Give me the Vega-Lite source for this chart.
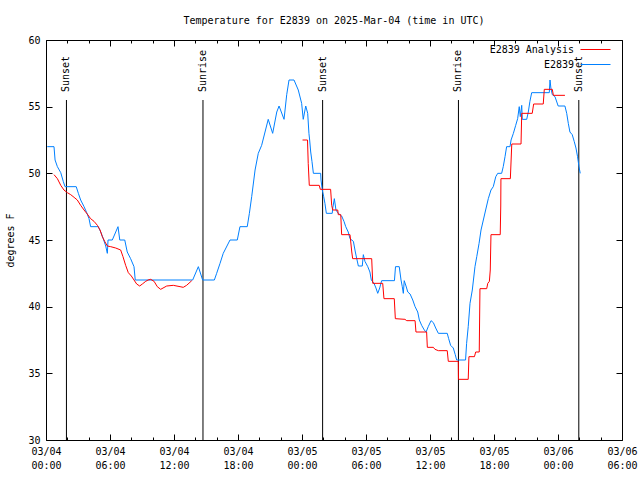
{
  "$schema": "https://vega.github.io/schema/vega-lite/v6.json",
  "width": 576,
  "height": 400,
  "autosize": {"type": "none"},
  "padding": {"left": 46, "top": 40, "right": 18, "bottom": 40},
  "background": "white",
  "title": {"text": "Temperature for E2839 on 2025-Mar-04 (time in UTC)", "font": "DejaVu Sans Mono", "fontSize": 10, "fontWeight": "normal", "color": "black", "offset": -1, "baseline": "bottom", "anchor": "middle"},
  "config": {
    "view": {"stroke": "black", "strokeWidth": 1},
    "axis": {"domainColor": "black", "domainWidth": 1, "tickColor": "black", "tickWidth": 1, "labelColor": "black", "labelFont": "DejaVu Sans Mono", "labelFontSize": 10, "titleFont": "DejaVu Sans Mono", "titleFontSize": 10, "titleFontWeight": "normal", "titleColor": "black", "grid": false},
    "legend": {"orient": "none", "legendX": 544, "legendY": 4, "title": null, "symbolType": "M-3,0H3", "symbolSize": 100, "symbolStrokeWidth": 1, "labelAlign": "right", "labelBaseline": "middle", "labelOffset": -27, "labelFont": "DejaVu Sans Mono", "labelFontSize": 10, "labelColor": "black", "rowPadding": 4, "padding": 0}
  },
  "datasets": {
    "obs": [
      {"series": "E2839", "run": 1, "t": "2025-03-04T00:07Z", "temp": 52.0},
      {"series": "E2839", "run": 1, "t": "2025-03-04T00:45Z", "temp": 52.0},
      {"series": "E2839", "run": 1, "t": "2025-03-04T00:51Z", "temp": 51.0},
      {"series": "E2839", "run": 1, "t": "2025-03-04T01:04Z", "temp": 50.5},
      {"series": "E2839", "run": 1, "t": "2025-03-04T01:23Z", "temp": 50.05},
      {"series": "E2839", "run": 1, "t": "2025-03-04T01:37Z", "temp": 49.4},
      {"series": "E2839", "run": 1, "t": "2025-03-04T01:47Z", "temp": 49.0},
      {"series": "E2839", "run": 1, "t": "2025-03-04T02:50Z", "temp": 49.0},
      {"series": "E2839", "run": 1, "t": "2025-03-04T03:02Z", "temp": 48.5},
      {"series": "E2839", "run": 1, "t": "2025-03-04T03:15Z", "temp": 48.0},
      {"series": "E2839", "run": 1, "t": "2025-03-04T03:34Z", "temp": 47.5},
      {"series": "E2839", "run": 1, "t": "2025-03-04T03:49Z", "temp": 47.05},
      {"series": "E2839", "run": 1, "t": "2025-03-04T04:02Z", "temp": 46.6},
      {"series": "E2839", "run": 1, "t": "2025-03-04T04:11Z", "temp": 46.0},
      {"series": "E2839", "run": 1, "t": "2025-03-04T04:54Z", "temp": 46.0},
      {"series": "E2839", "run": 1, "t": "2025-03-04T05:08Z", "temp": 45.6},
      {"series": "E2839", "run": 1, "t": "2025-03-04T05:22Z", "temp": 45.1},
      {"series": "E2839", "run": 1, "t": "2025-03-04T05:36Z", "temp": 44.55},
      {"series": "E2839", "run": 1, "t": "2025-03-04T05:45Z", "temp": 44.0},
      {"series": "E2839", "run": 1, "t": "2025-03-04T05:49Z", "temp": 45.0},
      {"series": "E2839", "run": 1, "t": "2025-03-04T06:13Z", "temp": 45.0},
      {"series": "E2839", "run": 1, "t": "2025-03-04T06:45Z", "temp": 46.0},
      {"series": "E2839", "run": 1, "t": "2025-03-04T06:55Z", "temp": 45.0},
      {"series": "E2839", "run": 1, "t": "2025-03-04T07:23Z", "temp": 45.0},
      {"series": "E2839", "run": 1, "t": "2025-03-04T07:37Z", "temp": 44.1},
      {"series": "E2839", "run": 1, "t": "2025-03-04T07:56Z", "temp": 43.6},
      {"series": "E2839", "run": 1, "t": "2025-03-04T08:15Z", "temp": 43.0},
      {"series": "E2839", "run": 1, "t": "2025-03-04T08:22Z", "temp": 42.0},
      {"series": "E2839", "run": 1, "t": "2025-03-04T13:45Z", "temp": 42.0},
      {"series": "E2839", "run": 1, "t": "2025-03-04T14:17Z", "temp": 43.0},
      {"series": "E2839", "run": 1, "t": "2025-03-04T14:41Z", "temp": 42.0},
      {"series": "E2839", "run": 1, "t": "2025-03-04T15:47Z", "temp": 42.0},
      {"series": "E2839", "run": 1, "t": "2025-03-04T16:00Z", "temp": 42.5},
      {"series": "E2839", "run": 1, "t": "2025-03-04T16:19Z", "temp": 43.25},
      {"series": "E2839", "run": 1, "t": "2025-03-04T16:37Z", "temp": 44.0},
      {"series": "E2839", "run": 1, "t": "2025-03-04T17:15Z", "temp": 45.0},
      {"series": "E2839", "run": 1, "t": "2025-03-04T17:56Z", "temp": 45.0},
      {"series": "E2839", "run": 1, "t": "2025-03-04T18:11Z", "temp": 46.0},
      {"series": "E2839", "run": 1, "t": "2025-03-04T18:52Z", "temp": 46.0},
      {"series": "E2839", "run": 1, "t": "2025-03-04T19:04Z", "temp": 47.0},
      {"series": "E2839", "run": 1, "t": "2025-03-04T19:17Z", "temp": 48.25},
      {"series": "E2839", "run": 1, "t": "2025-03-04T19:36Z", "temp": 50.25},
      {"series": "E2839", "run": 1, "t": "2025-03-04T19:54Z", "temp": 51.5},
      {"series": "E2839", "run": 1, "t": "2025-03-04T20:13Z", "temp": 52.1},
      {"series": "E2839", "run": 1, "t": "2025-03-04T20:32Z", "temp": 53.1},
      {"series": "E2839", "run": 1, "t": "2025-03-04T20:50Z", "temp": 54.05},
      {"series": "E2839", "run": 1, "t": "2025-03-04T21:15Z", "temp": 53.0},
      {"series": "E2839", "run": 1, "t": "2025-03-04T21:38Z", "temp": 54.6},
      {"series": "E2839", "run": 1, "t": "2025-03-04T21:51Z", "temp": 55.05},
      {"series": "E2839", "run": 1, "t": "2025-03-04T22:19Z", "temp": 54.05},
      {"series": "E2839", "run": 1, "t": "2025-03-04T22:34Z", "temp": 55.9},
      {"series": "E2839", "run": 1, "t": "2025-03-04T22:47Z", "temp": 57.0},
      {"series": "E2839", "run": 1, "t": "2025-03-04T23:15Z", "temp": 57.0},
      {"series": "E2839", "run": 1, "t": "2025-03-04T23:39Z", "temp": 56.25},
      {"series": "E2839", "run": 1, "t": "2025-03-04T23:58Z", "temp": 55.25},
      {"series": "E2839", "run": 1, "t": "2025-03-05T00:07Z", "temp": 54.05},
      {"series": "E2839", "run": 1, "t": "2025-03-05T00:21Z", "temp": 55.05},
      {"series": "E2839", "run": 1, "t": "2025-03-05T00:32Z", "temp": 54.5},
      {"series": "E2839", "run": 1, "t": "2025-03-05T00:39Z", "temp": 53.0},
      {"series": "E2839", "run": 1, "t": "2025-03-05T00:43Z", "temp": 52.5},
      {"series": "E2839", "run": 1, "t": "2025-03-05T00:49Z", "temp": 51.6},
      {"series": "E2839", "run": 1, "t": "2025-03-05T00:56Z", "temp": 50.9},
      {"series": "E2839", "run": 1, "t": "2025-03-05T01:04Z", "temp": 50.0},
      {"series": "E2839", "run": 1, "t": "2025-03-05T01:45Z", "temp": 50.0},
      {"series": "E2839", "run": 1, "t": "2025-03-05T01:47Z", "temp": 49.5},
      {"series": "E2839", "run": 1, "t": "2025-03-05T01:54Z", "temp": 48.75},
      {"series": "E2839", "run": 1, "t": "2025-03-05T02:02Z", "temp": 48.25},
      {"series": "E2839", "run": 1, "t": "2025-03-05T02:09Z", "temp": 47.75},
      {"series": "E2839", "run": 1, "t": "2025-03-05T02:17Z", "temp": 47.0},
      {"series": "E2839", "run": 1, "t": "2025-03-05T02:50Z", "temp": 47.0},
      {"series": "E2839", "run": 1, "t": "2025-03-05T02:53Z", "temp": 47.4},
      {"series": "E2839", "run": 1, "t": "2025-03-05T03:02Z", "temp": 48.1},
      {"series": "E2839", "run": 1, "t": "2025-03-05T03:11Z", "temp": 47.25},
      {"series": "E2839", "run": 1, "t": "2025-03-05T03:24Z", "temp": 47.0},
      {"series": "E2839", "run": 1, "t": "2025-03-05T03:43Z", "temp": 46.8},
      {"series": "E2839", "run": 1, "t": "2025-03-05T03:56Z", "temp": 46.4},
      {"series": "E2839", "run": 1, "t": "2025-03-05T04:06Z", "temp": 46.0},
      {"series": "E2839", "run": 1, "t": "2025-03-05T04:20Z", "temp": 45.6},
      {"series": "E2839", "run": 1, "t": "2025-03-05T04:30Z", "temp": 45.1},
      {"series": "E2839", "run": 1, "t": "2025-03-05T04:49Z", "temp": 44.9},
      {"series": "E2839", "run": 1, "t": "2025-03-05T05:00Z", "temp": 44.1},
      {"series": "E2839", "run": 1, "t": "2025-03-05T05:08Z", "temp": 43.6},
      {"series": "E2839", "run": 1, "t": "2025-03-05T05:17Z", "temp": 43.05},
      {"series": "E2839", "run": 1, "t": "2025-03-05T05:39Z", "temp": 43.05},
      {"series": "E2839", "run": 1, "t": "2025-03-05T05:45Z", "temp": 43.9},
      {"series": "E2839", "run": 1, "t": "2025-03-05T05:54Z", "temp": 43.4},
      {"series": "E2839", "run": 1, "t": "2025-03-05T06:10Z", "temp": 43.0},
      {"series": "E2839", "run": 1, "t": "2025-03-05T06:22Z", "temp": 42.6},
      {"series": "E2839", "run": 1, "t": "2025-03-05T06:30Z", "temp": 42.0},
      {"series": "E2839", "run": 1, "t": "2025-03-05T06:45Z", "temp": 41.75},
      {"series": "E2839", "run": 1, "t": "2025-03-05T06:56Z", "temp": 41.4},
      {"series": "E2839", "run": 1, "t": "2025-03-05T07:06Z", "temp": 41.0},
      {"series": "E2839", "run": 1, "t": "2025-03-05T07:17Z", "temp": 41.4},
      {"series": "E2839", "run": 1, "t": "2025-03-05T07:28Z", "temp": 41.95},
      {"series": "E2839", "run": 1, "t": "2025-03-05T08:40Z", "temp": 41.95},
      {"series": "E2839", "run": 1, "t": "2025-03-05T08:46Z", "temp": 43.0},
      {"series": "E2839", "run": 1, "t": "2025-03-05T09:07Z", "temp": 43.0},
      {"series": "E2839", "run": 1, "t": "2025-03-05T09:17Z", "temp": 42.0},
      {"series": "E2839", "run": 1, "t": "2025-03-05T09:24Z", "temp": 41.5},
      {"series": "E2839", "run": 1, "t": "2025-03-05T09:30Z", "temp": 41.0},
      {"series": "E2839", "run": 1, "t": "2025-03-05T09:35Z", "temp": 41.95},
      {"series": "E2839", "run": 1, "t": "2025-03-05T09:45Z", "temp": 41.55},
      {"series": "E2839", "run": 1, "t": "2025-03-05T09:55Z", "temp": 41.1},
      {"series": "E2839", "run": 1, "t": "2025-03-05T10:08Z", "temp": 40.95},
      {"series": "E2839", "run": 1, "t": "2025-03-05T10:23Z", "temp": 40.5},
      {"series": "E2839", "run": 1, "t": "2025-03-05T10:36Z", "temp": 40.0},
      {"series": "E2839", "run": 1, "t": "2025-03-05T10:51Z", "temp": 39.6},
      {"series": "E2839", "run": 1, "t": "2025-03-05T11:00Z", "temp": 39.0},
      {"series": "E2839", "run": 1, "t": "2025-03-05T11:13Z", "temp": 38.6},
      {"series": "E2839", "run": 1, "t": "2025-03-05T11:28Z", "temp": 38.25},
      {"series": "E2839", "run": 1, "t": "2025-03-05T11:38Z", "temp": 38.1},
      {"series": "E2839", "run": 1, "t": "2025-03-05T11:50Z", "temp": 38.5},
      {"series": "E2839", "run": 1, "t": "2025-03-05T12:06Z", "temp": 38.95},
      {"series": "E2839", "run": 1, "t": "2025-03-05T12:19Z", "temp": 38.8},
      {"series": "E2839", "run": 1, "t": "2025-03-05T12:32Z", "temp": 38.4},
      {"series": "E2839", "run": 1, "t": "2025-03-05T12:47Z", "temp": 38.0},
      {"series": "E2839", "run": 1, "t": "2025-03-05T13:37Z", "temp": 38.0},
      {"series": "E2839", "run": 1, "t": "2025-03-05T13:45Z", "temp": 37.6},
      {"series": "E2839", "run": 1, "t": "2025-03-05T13:56Z", "temp": 37.1},
      {"series": "E2839", "run": 1, "t": "2025-03-05T14:11Z", "temp": 36.9},
      {"series": "E2839", "run": 1, "t": "2025-03-05T14:22Z", "temp": 36.4},
      {"series": "E2839", "run": 1, "t": "2025-03-05T14:30Z", "temp": 36.0},
      {"series": "E2839", "run": 1, "t": "2025-03-05T15:20Z", "temp": 36.0},
      {"series": "E2839", "run": 1, "t": "2025-03-05T15:26Z", "temp": 37.25},
      {"series": "E2839", "run": 1, "t": "2025-03-05T15:35Z", "temp": 38.5},
      {"series": "E2839", "run": 1, "t": "2025-03-05T15:45Z", "temp": 40.25},
      {"series": "E2839", "run": 1, "t": "2025-03-05T15:58Z", "temp": 41.25},
      {"series": "E2839", "run": 1, "t": "2025-03-05T16:13Z", "temp": 43.0},
      {"series": "E2839", "run": 1, "t": "2025-03-05T16:23Z", "temp": 43.75},
      {"series": "E2839", "run": 1, "t": "2025-03-05T16:36Z", "temp": 44.75},
      {"series": "E2839", "run": 1, "t": "2025-03-05T16:47Z", "temp": 45.75},
      {"series": "E2839", "run": 1, "t": "2025-03-05T17:00Z", "temp": 46.5},
      {"series": "E2839", "run": 1, "t": "2025-03-05T17:13Z", "temp": 47.25},
      {"series": "E2839", "run": 1, "t": "2025-03-05T17:28Z", "temp": 48.1},
      {"series": "E2839", "run": 1, "t": "2025-03-05T17:43Z", "temp": 48.75},
      {"series": "E2839", "run": 1, "t": "2025-03-05T17:56Z", "temp": 49.0},
      {"series": "E2839", "run": 1, "t": "2025-03-05T18:10Z", "temp": 49.75},
      {"series": "E2839", "run": 1, "t": "2025-03-05T18:21Z", "temp": 50.0},
      {"series": "E2839", "run": 1, "t": "2025-03-05T18:43Z", "temp": 50.0},
      {"series": "E2839", "run": 1, "t": "2025-03-05T18:52Z", "temp": 50.5},
      {"series": "E2839", "run": 1, "t": "2025-03-05T19:02Z", "temp": 51.25},
      {"series": "E2839", "run": 1, "t": "2025-03-05T19:11Z", "temp": 52.0},
      {"series": "E2839", "run": 1, "t": "2025-03-05T19:30Z", "temp": 52.0},
      {"series": "E2839", "run": 1, "t": "2025-03-05T19:36Z", "temp": 52.5},
      {"series": "E2839", "run": 1, "t": "2025-03-05T19:49Z", "temp": 53.0},
      {"series": "E2839", "run": 1, "t": "2025-03-05T20:02Z", "temp": 53.6},
      {"series": "E2839", "run": 1, "t": "2025-03-05T20:13Z", "temp": 54.1},
      {"series": "E2839", "run": 1, "t": "2025-03-05T20:22Z", "temp": 55.0},
      {"series": "E2839", "run": 1, "t": "2025-03-05T20:28Z", "temp": 54.25},
      {"series": "E2839", "run": 1, "t": "2025-03-05T20:36Z", "temp": 55.1},
      {"series": "E2839", "run": 1, "t": "2025-03-05T20:39Z", "temp": 54.05},
      {"series": "E2839", "run": 1, "t": "2025-03-05T21:04Z", "temp": 54.05},
      {"series": "E2839", "run": 1, "t": "2025-03-05T21:13Z", "temp": 54.6},
      {"series": "E2839", "run": 1, "t": "2025-03-05T21:22Z", "temp": 55.4},
      {"series": "E2839", "run": 1, "t": "2025-03-05T21:32Z", "temp": 56.05},
      {"series": "E2839", "run": 1, "t": "2025-03-05T23:11Z", "temp": 56.05},
      {"series": "E2839", "run": 1, "t": "2025-03-05T23:15Z", "temp": 57.0},
      {"series": "E2839", "run": 1, "t": "2025-03-05T23:20Z", "temp": 56.4},
      {"series": "E2839", "run": 1, "t": "2025-03-05T23:28Z", "temp": 55.9},
      {"series": "E2839", "run": 1, "t": "2025-03-05T23:43Z", "temp": 55.75},
      {"series": "E2839", "run": 1, "t": "2025-03-06T00:01Z", "temp": 55.05},
      {"series": "E2839", "run": 1, "t": "2025-03-06T00:39Z", "temp": 55.05},
      {"series": "E2839", "run": 1, "t": "2025-03-06T00:49Z", "temp": 54.5},
      {"series": "E2839", "run": 1, "t": "2025-03-06T00:58Z", "temp": 53.75},
      {"series": "E2839", "run": 1, "t": "2025-03-06T01:07Z", "temp": 53.1},
      {"series": "E2839", "run": 1, "t": "2025-03-06T01:20Z", "temp": 52.9},
      {"series": "E2839", "run": 1, "t": "2025-03-06T01:31Z", "temp": 52.4},
      {"series": "E2839", "run": 1, "t": "2025-03-06T01:41Z", "temp": 51.9},
      {"series": "E2839", "run": 1, "t": "2025-03-06T01:50Z", "temp": 51.25},
      {"series": "E2839", "run": 1, "t": "2025-03-06T01:58Z", "temp": 50.5},
      {"series": "E2839", "run": 1, "t": "2025-03-06T02:05Z", "temp": 50.0},
      {"series": "E2839 Analysis", "run": 2, "t": "2025-03-04T00:45Z", "temp": 49.9},
      {"series": "E2839 Analysis", "run": 2, "t": "2025-03-04T01:04Z", "temp": 49.6},
      {"series": "E2839 Analysis", "run": 2, "t": "2025-03-04T01:23Z", "temp": 49.1},
      {"series": "E2839 Analysis", "run": 2, "t": "2025-03-04T01:41Z", "temp": 48.75},
      {"series": "E2839 Analysis", "run": 2, "t": "2025-03-04T02:00Z", "temp": 48.55},
      {"series": "E2839 Analysis", "run": 2, "t": "2025-03-04T02:19Z", "temp": 48.4},
      {"series": "E2839 Analysis", "run": 2, "t": "2025-03-04T02:38Z", "temp": 48.2},
      {"series": "E2839 Analysis", "run": 2, "t": "2025-03-04T02:56Z", "temp": 48.0},
      {"series": "E2839 Analysis", "run": 2, "t": "2025-03-04T03:15Z", "temp": 47.6},
      {"series": "E2839 Analysis", "run": 2, "t": "2025-03-04T03:34Z", "temp": 47.25},
      {"series": "E2839 Analysis", "run": 2, "t": "2025-03-04T03:52Z", "temp": 46.95},
      {"series": "E2839 Analysis", "run": 2, "t": "2025-03-04T04:11Z", "temp": 46.6},
      {"series": "E2839 Analysis", "run": 2, "t": "2025-03-04T04:30Z", "temp": 46.4},
      {"series": "E2839 Analysis", "run": 2, "t": "2025-03-04T04:49Z", "temp": 46.1},
      {"series": "E2839 Analysis", "run": 2, "t": "2025-03-04T05:04Z", "temp": 45.75},
      {"series": "E2839 Analysis", "run": 2, "t": "2025-03-04T05:17Z", "temp": 45.25},
      {"series": "E2839 Analysis", "run": 2, "t": "2025-03-04T05:30Z", "temp": 44.9},
      {"series": "E2839 Analysis", "run": 2, "t": "2025-03-04T05:45Z", "temp": 44.55},
      {"series": "E2839 Analysis", "run": 2, "t": "2025-03-04T06:04Z", "temp": 44.5},
      {"series": "E2839 Analysis", "run": 2, "t": "2025-03-04T06:32Z", "temp": 44.4},
      {"series": "E2839 Analysis", "run": 2, "t": "2025-03-04T07:00Z", "temp": 44.25},
      {"series": "E2839 Analysis", "run": 2, "t": "2025-03-04T07:13Z", "temp": 43.75},
      {"series": "E2839 Analysis", "run": 2, "t": "2025-03-04T07:28Z", "temp": 43.1},
      {"series": "E2839 Analysis", "run": 2, "t": "2025-03-04T07:43Z", "temp": 42.55},
      {"series": "E2839 Analysis", "run": 2, "t": "2025-03-04T08:00Z", "temp": 42.3},
      {"series": "E2839 Analysis", "run": 2, "t": "2025-03-04T08:15Z", "temp": 42.0},
      {"series": "E2839 Analysis", "run": 2, "t": "2025-03-04T08:30Z", "temp": 41.7},
      {"series": "E2839 Analysis", "run": 2, "t": "2025-03-04T08:47Z", "temp": 41.55},
      {"series": "E2839 Analysis", "run": 2, "t": "2025-03-04T09:02Z", "temp": 41.7},
      {"series": "E2839 Analysis", "run": 2, "t": "2025-03-04T09:21Z", "temp": 41.9},
      {"series": "E2839 Analysis", "run": 2, "t": "2025-03-04T09:34Z", "temp": 42.0},
      {"series": "E2839 Analysis", "run": 2, "t": "2025-03-04T09:49Z", "temp": 42.05},
      {"series": "E2839 Analysis", "run": 2, "t": "2025-03-04T10:08Z", "temp": 41.9},
      {"series": "E2839 Analysis", "run": 2, "t": "2025-03-04T10:26Z", "temp": 41.5},
      {"series": "E2839 Analysis", "run": 2, "t": "2025-03-04T10:45Z", "temp": 41.3},
      {"series": "E2839 Analysis", "run": 2, "t": "2025-03-04T11:19Z", "temp": 41.55},
      {"series": "E2839 Analysis", "run": 2, "t": "2025-03-04T11:56Z", "temp": 41.6},
      {"series": "E2839 Analysis", "run": 2, "t": "2025-03-04T12:34Z", "temp": 41.5},
      {"series": "E2839 Analysis", "run": 2, "t": "2025-03-04T12:52Z", "temp": 41.45},
      {"series": "E2839 Analysis", "run": 2, "t": "2025-03-04T13:11Z", "temp": 41.6},
      {"series": "E2839 Analysis", "run": 2, "t": "2025-03-04T13:40Z", "temp": 41.95},
      {"series": "E2839 Analysis", "run": 3, "t": "2025-03-05T00:03Z", "temp": 52.5},
      {"series": "E2839 Analysis", "run": 3, "t": "2025-03-05T00:31Z", "temp": 52.5},
      {"series": "E2839 Analysis", "run": 3, "t": "2025-03-05T00:35Z", "temp": 50.75},
      {"series": "E2839 Analysis", "run": 3, "t": "2025-03-05T00:41Z", "temp": 49.1},
      {"series": "E2839 Analysis", "run": 3, "t": "2025-03-05T01:37Z", "temp": 49.1},
      {"series": "E2839 Analysis", "run": 3, "t": "2025-03-05T01:43Z", "temp": 48.8},
      {"series": "E2839 Analysis", "run": 3, "t": "2025-03-05T02:41Z", "temp": 48.8},
      {"series": "E2839 Analysis", "run": 3, "t": "2025-03-05T02:47Z", "temp": 47.6},
      {"series": "E2839 Analysis", "run": 3, "t": "2025-03-05T02:53Z", "temp": 47.25},
      {"series": "E2839 Analysis", "run": 3, "t": "2025-03-05T03:21Z", "temp": 47.25},
      {"series": "E2839 Analysis", "run": 3, "t": "2025-03-05T03:24Z", "temp": 46.9},
      {"series": "E2839 Analysis", "run": 3, "t": "2025-03-05T03:38Z", "temp": 46.9},
      {"series": "E2839 Analysis", "run": 3, "t": "2025-03-05T03:43Z", "temp": 45.4},
      {"series": "E2839 Analysis", "run": 3, "t": "2025-03-05T04:30Z", "temp": 45.4},
      {"series": "E2839 Analysis", "run": 3, "t": "2025-03-05T04:40Z", "temp": 44.1},
      {"series": "E2839 Analysis", "run": 3, "t": "2025-03-05T04:45Z", "temp": 43.6},
      {"series": "E2839 Analysis", "run": 3, "t": "2025-03-05T06:32Z", "temp": 43.6},
      {"series": "E2839 Analysis", "run": 3, "t": "2025-03-05T06:38Z", "temp": 41.75},
      {"series": "E2839 Analysis", "run": 3, "t": "2025-03-05T07:34Z", "temp": 41.75},
      {"series": "E2839 Analysis", "run": 3, "t": "2025-03-05T07:41Z", "temp": 40.6},
      {"series": "E2839 Analysis", "run": 3, "t": "2025-03-05T08:39Z", "temp": 40.6},
      {"series": "E2839 Analysis", "run": 3, "t": "2025-03-05T08:45Z", "temp": 39.1},
      {"series": "E2839 Analysis", "run": 3, "t": "2025-03-05T09:39Z", "temp": 39.05},
      {"series": "E2839 Analysis", "run": 3, "t": "2025-03-05T09:49Z", "temp": 38.95},
      {"series": "E2839 Analysis", "run": 3, "t": "2025-03-05T10:36Z", "temp": 38.95},
      {"series": "E2839 Analysis", "run": 3, "t": "2025-03-05T10:41Z", "temp": 38.1},
      {"series": "E2839 Analysis", "run": 3, "t": "2025-03-05T11:41Z", "temp": 38.1},
      {"series": "E2839 Analysis", "run": 3, "t": "2025-03-05T11:45Z", "temp": 36.95},
      {"series": "E2839 Analysis", "run": 3, "t": "2025-03-05T12:19Z", "temp": 36.95},
      {"series": "E2839 Analysis", "run": 3, "t": "2025-03-05T12:28Z", "temp": 36.8},
      {"series": "E2839 Analysis", "run": 3, "t": "2025-03-05T12:47Z", "temp": 36.7},
      {"series": "E2839 Analysis", "run": 3, "t": "2025-03-05T13:37Z", "temp": 36.7},
      {"series": "E2839 Analysis", "run": 3, "t": "2025-03-05T13:43Z", "temp": 35.9},
      {"series": "E2839 Analysis", "run": 3, "t": "2025-03-05T14:39Z", "temp": 35.9},
      {"series": "E2839 Analysis", "run": 3, "t": "2025-03-05T14:40Z", "temp": 34.55},
      {"series": "E2839 Analysis", "run": 3, "t": "2025-03-05T15:35Z", "temp": 34.55},
      {"series": "E2839 Analysis", "run": 3, "t": "2025-03-05T15:39Z", "temp": 36.25},
      {"series": "E2839 Analysis", "run": 3, "t": "2025-03-05T16:10Z", "temp": 36.25},
      {"series": "E2839 Analysis", "run": 3, "t": "2025-03-05T16:17Z", "temp": 36.6},
      {"series": "E2839 Analysis", "run": 3, "t": "2025-03-05T16:37Z", "temp": 36.6},
      {"series": "E2839 Analysis", "run": 3, "t": "2025-03-05T16:41Z", "temp": 41.35},
      {"series": "E2839 Analysis", "run": 3, "t": "2025-03-05T17:19Z", "temp": 41.35},
      {"series": "E2839 Analysis", "run": 3, "t": "2025-03-05T17:25Z", "temp": 41.75},
      {"series": "E2839 Analysis", "run": 3, "t": "2025-03-05T17:34Z", "temp": 41.9},
      {"series": "E2839 Analysis", "run": 3, "t": "2025-03-05T17:39Z", "temp": 42.75},
      {"series": "E2839 Analysis", "run": 3, "t": "2025-03-05T17:43Z", "temp": 45.4},
      {"series": "E2839 Analysis", "run": 3, "t": "2025-03-05T18:35Z", "temp": 45.4},
      {"series": "E2839 Analysis", "run": 3, "t": "2025-03-05T18:38Z", "temp": 47.55},
      {"series": "E2839 Analysis", "run": 3, "t": "2025-03-05T18:39Z", "temp": 49.6},
      {"series": "E2839 Analysis", "run": 3, "t": "2025-03-05T19:32Z", "temp": 49.6},
      {"series": "E2839 Analysis", "run": 3, "t": "2025-03-05T19:40Z", "temp": 52.2},
      {"series": "E2839 Analysis", "run": 3, "t": "2025-03-05T20:32Z", "temp": 52.2},
      {"series": "E2839 Analysis", "run": 3, "t": "2025-03-05T20:36Z", "temp": 54.5},
      {"series": "E2839 Analysis", "run": 3, "t": "2025-03-05T21:35Z", "temp": 54.5},
      {"series": "E2839 Analysis", "run": 3, "t": "2025-03-05T21:43Z", "temp": 55.2},
      {"series": "E2839 Analysis", "run": 3, "t": "2025-03-05T22:37Z", "temp": 55.2},
      {"series": "E2839 Analysis", "run": 3, "t": "2025-03-05T22:43Z", "temp": 56.3},
      {"series": "E2839 Analysis", "run": 3, "t": "2025-03-05T23:28Z", "temp": 56.3},
      {"series": "E2839 Analysis", "run": 3, "t": "2025-03-05T23:34Z", "temp": 55.85},
      {"series": "E2839 Analysis", "run": 3, "t": "2025-03-06T00:39Z", "temp": 55.85}
    ],
    "sun": [
      {"t": "2025-03-04T01:55Z", "label": "Sunset"},
      {"t": "2025-03-04T14:43Z", "label": "Sunrise"},
      {"t": "2025-03-05T01:56Z", "label": "Sunset"},
      {"t": "2025-03-05T14:40Z", "label": "Sunrise"},
      {"t": "2025-03-06T01:57Z", "label": "Sunset"}
    ]
  },
  "layer": [
    {
      "data": {"name": "sun"},
      "mark": {"type": "rule", "color": "black", "strokeWidth": 1},
      "encoding": {
        "x": {"field": "t", "type": "temporal", "scale": {"type": "utc", "domain": [1741046400000, 1741240800000], "nice": false},
          "axis": {"orient": "top", "title": null, "labels": false, "domain": false, "values": [1741046400000,1741053600000,1741060800000,1741068000000,1741075200000,1741082400000,1741089600000,1741096800000,1741104000000,1741111200000,1741118400000,1741125600000,1741132800000,1741140000000,1741147200000,1741154400000,1741161600000,1741168800000,1741176000000,1741183200000,1741190400000,1741197600000,1741204800000,1741212000000,1741219200000,1741226400000,1741233600000,1741240800000],
            "tickSize": {"condition": {"test": "utchours(datum.value) % 6 == 0", "value": -6}, "value": -3}}},
        "y": {"datum": 55.5, "type": "quantitative", "scale": {"domain": [30, 60], "nice": false, "zero": false},
          "axis": {"orient": "right", "title": null, "labels": false, "domain": false, "values": [30, 35, 40, 45, 50, 55, 60], "tickSize": -6}},
        "y2": {"datum": 30}
      }
    },
    {
      "data": {"name": "sun"},
      "mark": {"type": "text", "angle": 270, "align": "left", "baseline": "middle", "font": "DejaVu Sans Mono", "fontSize": 10, "color": "black"},
      "encoding": {
        "x": {"field": "t", "type": "temporal", "axis": null},
        "y": {"datum": 56.1, "type": "quantitative", "axis": null},
        "text": {"field": "label"}
      }
    },
    {
      "data": {"name": "obs"},
      "mark": {"type": "line", "strokeWidth": 1, "interpolate": "linear"},
      "encoding": {
        "x": {"field": "t", "type": "temporal",
          "axis": {"orient": "bottom", "title": null, "domain": false, "labelFlush": false, "labelOverlap": false, "labelBound": false, "labelLineHeight": 14, "labelPadding": 12, "values": [1741046400000,1741053600000,1741060800000,1741068000000,1741075200000,1741082400000,1741089600000,1741096800000,1741104000000,1741111200000,1741118400000,1741125600000,1741132800000,1741140000000,1741147200000,1741154400000,1741161600000,1741168800000,1741176000000,1741183200000,1741190400000,1741197600000,1741204800000,1741212000000,1741219200000,1741226400000,1741233600000,1741240800000],
            "labelExpr": "utchours(datum.value) % 6 == 0 ? [utcFormat(datum.value, '%m/%d'), utcFormat(datum.value, '%H:%M')] : ''",
            "tickSize": {"condition": {"test": "utchours(datum.value) % 6 == 0", "value": -6}, "value": -3}}},
        "y": {"field": "temp", "type": "quantitative",
          "axis": {"orient": "left", "title": "degrees F", "titleX": -36, "titleY": 200, "titleAngle": 270, "titleBaseline": "middle", "titleAlign": "center", "domain": false, "values": [30, 35, 40, 45, 50, 55, 60], "tickSize": -6, "labelPadding": 12, "labelFlush": false}},
        "color": {"field": "series", "type": "nominal", "sort": ["E2839 Analysis", "E2839"], "scale": {"domain": ["E2839 Analysis", "E2839"], "range": ["#ff0000", "#0080ff"]}},
        "detail": {"field": "run", "type": "nominal"}
      }
    }
  ],
  "resolve": {"axis": {"x": "independent", "y": "independent"}}
}
